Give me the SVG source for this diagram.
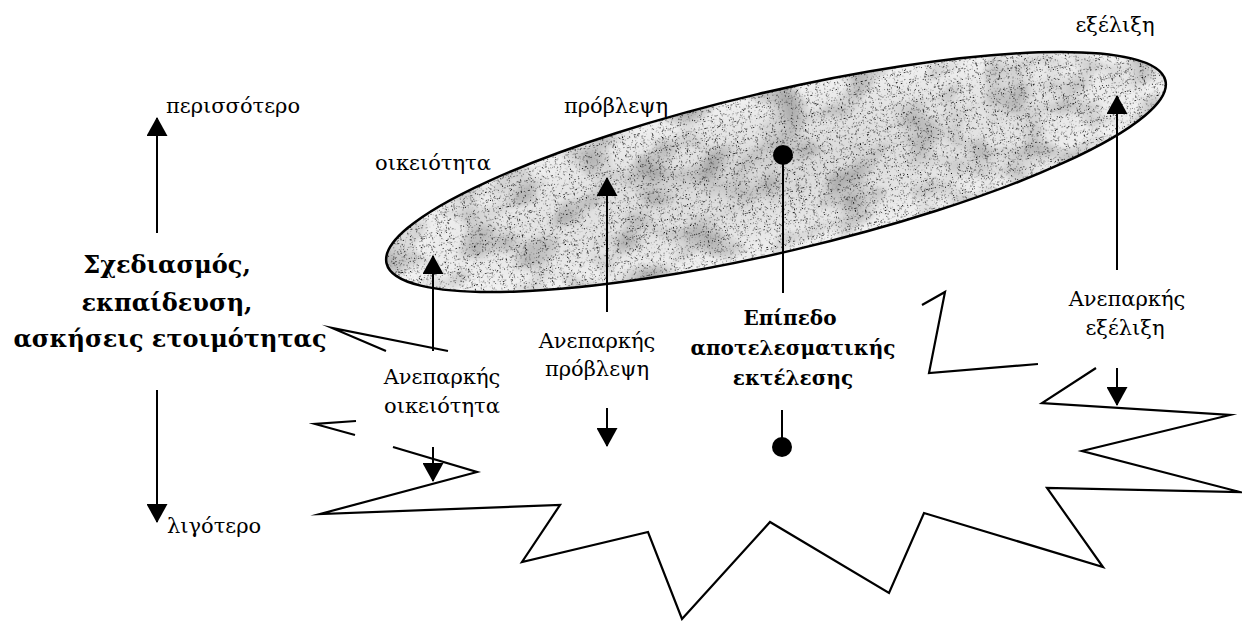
<svg xmlns="http://www.w3.org/2000/svg" width="1242" height="621" viewBox="0 0 1242 621">
  <defs>
    <style>
      .lbl{font-family:"DejaVu Serif","Liberation Serif",serif;font-size:21px;fill:#000;text-anchor:middle}
      .start{text-anchor:start}
      .bold{font-weight:bold;font-size:20px}
      .big{font-size:24px}
      .ln{stroke:#000;stroke-width:2;fill:none}
      .burst{stroke:#000;stroke-width:2.2;fill:none;stroke-linejoin:miter;stroke-miterlimit:20}
    </style>
    <marker id="ah" markerUnits="userSpaceOnUse" markerWidth="19" markerHeight="21" viewBox="0 0 19 21" refX="18" refY="10.5" orient="auto">
      <path d="M0,0 L19,10.5 L0,21 z" fill="#000"/>
    </marker>
    <marker id="dot" markerUnits="userSpaceOnUse" markerWidth="22" markerHeight="22" viewBox="-11 -11 22 22" refX="0" refY="0">
      <circle r="10" fill="#000"/>
    </marker>
    <radialGradient id="shade" cx="0.5" cy="0.5" r="0.5">
      <stop offset="0" stop-color="#d8d8d8"/>
      <stop offset="0.7" stop-color="#e6e6e6"/>
      <stop offset="1" stop-color="#f2f2f2"/>
    </radialGradient>
    <!-- fine stipple speckles -->
    <filter id="grain" x="0" y="0" width="1" height="1" color-interpolation-filters="sRGB">
      <feTurbulence type="fractalNoise" baseFrequency="1.1" numOctaves="1" seed="4"/>
      <feColorMatrix type="matrix" values="0 0 0 0 0  0 0 0 0 0  0 0 0 0 0  -7 0 0 0 2.8"/>
      <feComposite in2="SourceAlpha" operator="in"/>
    </filter>
    <!-- soft mottled patches -->
    <filter id="blotch" x="0" y="0" width="1" height="1" color-interpolation-filters="sRGB">
      <feTurbulence type="fractalNoise" baseFrequency="0.022 0.03" numOctaves="2" seed="2"/>
      <feColorMatrix type="matrix" values="0 0 0 0 0.55  0 0 0 0 0.55  0 0 0 0 0.55  -1.8 0 0 0 1.0"/>
      <feComposite in2="SourceAlpha" operator="in"/>
    </filter>
  </defs>

  <rect width="1242" height="621" fill="#fff"/>

  <!-- shaded region of effective performance -->
  <g id="zone">
    <g transform="rotate(-13.2 776 172)">
      <ellipse cx="776" cy="172" rx="400" ry="80" fill="url(#shade)"/>
      <ellipse cx="776" cy="172" rx="400" ry="80" fill="#000" filter="url(#blotch)"/>
      <ellipse cx="776" cy="172" rx="400" ry="80" fill="#000" filter="url(#grain)"/>
      <ellipse cx="776" cy="172" rx="400" ry="80" fill="none" stroke="#000" stroke-width="2.5"/>
    </g>
  </g>

  <!-- jagged outline (visible pieces between labels) -->
  <g id="burst">
    <polyline class="burst" points="386,351 332,328 448,351"/>
    <polyline class="burst" points="356,421 315,424 355,435"/>
    <polyline class="burst" points="393,447 477,472 320,514 560,505 522,562 648,532 682,619 770,522 889,593 924,513 1103,567 1047,488 1240,492 1082,451 1230,415 1042,403 1096,368"/>
    <polyline class="burst" points="922,305 945,292 929,373 1038,364"/>
  </g>

  <!-- connectors -->
  <g id="connectors">
    <line class="ln" x1="157" y1="233" x2="157" y2="118" marker-end="url(#ah)"/>
    <line class="ln" x1="157" y1="390" x2="157" y2="522" marker-end="url(#ah)"/>
    <line class="ln" x1="433" y1="351" x2="433" y2="256" marker-end="url(#ah)"/>
    <line class="ln" x1="433" y1="447" x2="433" y2="481" marker-end="url(#ah)"/>
    <line class="ln" x1="607" y1="312" x2="607" y2="178" marker-end="url(#ah)"/>
    <line class="ln" x1="607" y1="408" x2="607" y2="446" marker-end="url(#ah)"/>
    <line class="ln" x1="783" y1="293" x2="783" y2="155" marker-end="url(#dot)"/>
    <line class="ln" x1="782" y1="410" x2="782" y2="447" marker-end="url(#dot)"/>
    <line class="ln" x1="1117" y1="270" x2="1117" y2="96" marker-end="url(#ah)"/>
    <line class="ln" x1="1117" y1="368" x2="1117" y2="405" marker-end="url(#ah)"/>
  </g>

  <!-- left scale -->
  <g id="scale">
    <text class="lbl start" x="166" y="113">περισσότερο</text>
    <text class="lbl start" x="167" y="533">λιγότερο</text>
  </g>
  <g id="preparation">
    <text class="lbl bold big" x="167" y="273">Σχεδιασμός,</text>
    <text class="lbl bold big" x="167" y="311">εκπαίδευση,</text>
    <text class="lbl bold big" x="170" y="347">ασκήσεις ετοιμότητας</text>
  </g>

  <!-- labels along the shaded region -->
  <g id="familiarity">
    <text class="lbl" x="433" y="170">οικειότητα</text>
  </g>
  <g id="prediction">
    <text class="lbl" x="616" y="113">πρόβλεψη</text>
  </g>
  <g id="evolution">
    <text class="lbl" x="1115" y="32">εξέλιξη</text>
  </g>

  <!-- deficiency labels -->
  <g id="low-familiarity">
    <text class="lbl" x="442" y="384">Ανεπαρκής</text>
    <text class="lbl" x="442" y="413">οικειότητα</text>
  </g>
  <g id="low-prediction">
    <text class="lbl" x="597" y="348">Ανεπαρκής</text>
    <text class="lbl" x="597" y="376">πρόβλεψη</text>
  </g>
  <g id="effective-level">
    <text class="lbl bold" x="790" y="325">Επίπεδο</text>
    <text class="lbl bold" x="793" y="355">αποτελεσματικής</text>
    <text class="lbl bold" x="793" y="385">εκτέλεσης</text>
  </g>
  <g id="low-evolution">
    <text class="lbl" x="1127" y="306">Ανεπαρκής</text>
    <text class="lbl" x="1125" y="335">εξέλιξη</text>
  </g>
</svg>
